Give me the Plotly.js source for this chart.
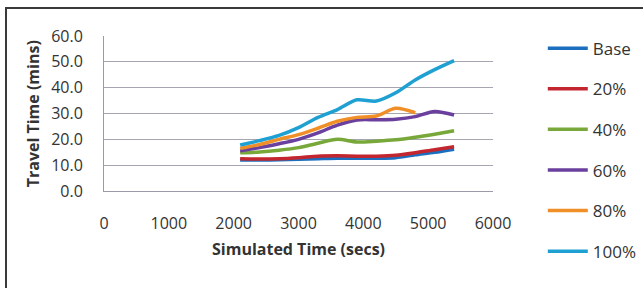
<!DOCTYPE html>
<html>
<head>
<meta charset="utf-8">
<script src="https://cdn.plot.ly/plotly-3.0.1.min.js"></script>
<style>
  html, body { margin: 0; padding: 0; background: #ffffff; overflow: hidden; }
  #wrap { position: relative; width: 643px; height: 288px; }
  #chart { position: absolute; left: 0; top: 0; width: 643px; height: 288px; }
  #frame { position: absolute; left: 5px; top: 7px; width: 700px; height: 400px;
           border-left: 2px solid #3a3a3a; border-top: 2px solid #3a3a3a; pointer-events: none; }
</style>
</head>
<body>
<div id="wrap">
  <div id="chart"></div>
  <div id="frame"></div>
</div>
<script>
// Simulated time (secs)
const timeSecs = [2100, 2400, 2700, 3000, 3300, 3600, 3900, 4200, 4500, 4800, 5100, 5400];
const timeSecs80 = [2100, 2400, 2700, 3000, 3300, 3600, 3900, 4200, 4500, 4800];

// Travel time (mins) per scenario
const base   = [12.0, 12.0, 12.1, 12.3, 12.5, 12.7, 12.7, 12.7, 12.9, 14.0, 15.0, 16.2];
const pct20  = [12.5, 12.4, 12.5, 12.9, 13.5, 13.6, 13.5, 13.5, 13.8, 14.8, 16.0, 17.1];
const pct40  = [14.8, 15.1, 15.8, 16.8, 18.5, 20.0, 19.0, 19.3, 19.8, 20.8, 22.0, 23.3];
const pct60  = [15.6, 16.8, 18.3, 20.0, 22.5, 25.5, 27.5, 27.6, 27.8, 28.8, 30.8, 29.4];
const pct80  = [16.5, 18.0, 20.0, 21.8, 24.3, 27.0, 28.5, 29.0, 32.0, 30.3];
const pct100 = [17.8, 19.5, 21.5, 24.5, 28.5, 31.5, 35.3, 34.8, 38.0, 43.0, 47.0, 50.5];

const seriesNames = ["Base", "20%", "40%", "60%", "80%", "100%"];
const xTickVals = [0, 1000, 2000, 3000, 4000, 5000, 6000];
const yTickVals = [0, 10, 20, 30, 40, 50, 60];
const yTickText = ["0.0", "10.0", "20.0", "30.0", "40.0", "50.0", "60.0"];
const xTitle = "Simulated Time (secs)";
const yTitle = "Travel Time (mins)";

const colors = ["#1c6fbf", "#c3262e", "#78a83a", "#6a3f9e", "#f08f27", "#1fa0d2"];
const xs = [timeSecs, timeSecs, timeSecs, timeSecs, timeSecs80, timeSecs];
const ys = [base, pct20, pct40, pct60, pct80, pct100];

const traces = seriesNames.map((n, i) => ({
  x: xs[i], y: ys[i], name: n, type: "scatter", mode: "lines",
  line: { color: colors[i], width: 3.5, shape: "spline", smoothing: 0.8 },
  legendgroup: "g" + i
}));

const font = "'Open Sans', Lato, 'DejaVu Sans', sans-serif";
const txt = "#333333";

const layout = {
  width: 643, height: 288,
  margin: { l: 104, r: 150, t: 36, b: 97, autoexpand: false },
  paper_bgcolor: "rgba(0,0,0,0)",
  plot_bgcolor: "#ffffff",
  font: { family: font, size: 16, color: txt },
  showlegend: true,
  legend: {
    x: 1.128, xanchor: "left", y: 1.035, yanchor: "top",
    font: { family: font, size: 17, color: txt },
    tracegroupgap: 15.5, traceorder: "grouped",
    itemwidth: 40, bgcolor: "rgba(0,0,0,0)",
    maxheight: 1000
  },
  xaxis: {
    range: [0, 6000], tickvals: xTickVals, ticktext: xTickVals.map(String),
    showgrid: false, zeroline: false, showline: true, linecolor: "#9a9aa8", linewidth: 1,
    ticks: "", ticklabelstandoff: 18,
    tickfont: { family: font, size: 16, color: txt },
    title: { text: "<b>" + xTitle + "</b>", font: { family: font, size: 16, color: txt }, standoff: 10 },
    fixedrange: true
  },
  yaxis: {
    range: [0, 60], tickvals: yTickVals, ticktext: yTickText,
    showgrid: true, gridcolor: "#a6a6b2", gridwidth: 1,
    zeroline: false, showline: true, linecolor: "#9a9aa8", linewidth: 1,
    ticks: "", ticklabelstandoff: 17,
    tickfont: { family: font, size: 16, color: txt },
    title: { text: "" },
    fixedrange: true
  },
  annotations: [{
    text: "<b>" + yTitle + "</b>", textangle: -90,
    xref: "paper", yref: "paper", x: -0.183, y: 0.5,
    xanchor: "center", yanchor: "middle", showarrow: false,
    font: { family: font, size: 16, color: txt }
  }]
};

Plotly.newPlot("chart", traces, layout, { displayModeBar: false, staticPlot: true });
</script>
</body>
</html>
